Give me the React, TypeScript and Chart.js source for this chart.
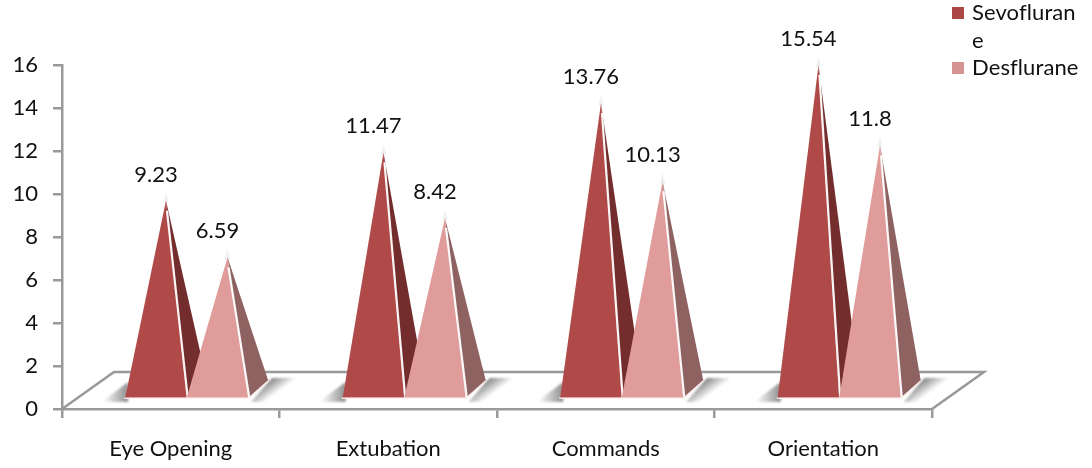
import React, { useEffect, useRef } from "react";
import { Chart, registerables, BarController, BarElement } from "chart.js";

const categories = ["Eye Opening", "Extubation", "Commands", "Orientation"];
const sevoflurane = [9.23, 11.47, 13.76, 15.54];
const desflurane = [6.59, 8.42, 10.13, 11.8];
const valueLabels = [
  ["9.23", "11.47", "13.76", "15.54"],
  ["6.59", "8.42", "10.13", "11.8"],
];
const frontColors = ["#AF4A48", "#DF9C9A"];
const sideColors = ["#742D2D", "#8F6262"];
const legendSwatches = ["#AB4745", "#D59391"];
const legendLines = [
  { text: "Sevofluran", swatch: 0 },
  { text: "e", swatch: -1 },
  { text: "Desflurane", swatch: 1 },
];
const FONT_FAMILY = "Lato, Carlito, sans-serif";
const FONT_SIZE = 22;
const FONT = `${FONT_SIZE}px ${FONT_FAMILY}`;
const AXIS_GREY = "#999999";

// Projection of the 3D floor and of each pyramid's base
const DEPTH_X = 52;
const DEPTH_Y = 37;
const BASE_SHIFT_X = 16;
const BASE_LIFT = 10;
const BACK_X = 20;
const BACK_Y = 17;

class PyramidBar extends BarElement {
  static id = "pyramid";

  draw(ctx: CanvasRenderingContext2D) {
    const { x, y, width, base } = (this as any).getProps(["x", "y", "width", "base"]);
    const opts = (this as any).options;
    const left = x - width / 2 + BASE_SHIFT_X;
    const right = x + width / 2 + BASE_SHIFT_X;
    const floorY = base - BASE_LIFT;
    const apexX = (left + right + BACK_X) / 2;
    const apexY = y - BASE_LIFT;

    ctx.save();
    ctx.lineJoin = "round";
    // faint glow around the tip
    ctx.beginPath();
    ctx.moveTo(apexX - 3, apexY + 2);
    ctx.lineTo(apexX, apexY - 8);
    ctx.lineTo(apexX + 3, apexY + 2);
    ctx.closePath();
    ctx.fillStyle = "rgba(232,232,232,0.6)";
    ctx.fill();
    // right-hand face, receding towards the back of the floor
    ctx.beginPath();
    ctx.moveTo(right, floorY);
    ctx.lineTo(right + BACK_X, floorY - BACK_Y);
    ctx.lineTo(apexX, apexY);
    ctx.closePath();
    ctx.fillStyle = opts.borderColor;
    ctx.fill();
    // front face
    ctx.beginPath();
    ctx.moveTo(left, floorY);
    ctx.lineTo(right, floorY);
    ctx.lineTo(apexX, apexY);
    ctx.closePath();
    ctx.fillStyle = opts.backgroundColor;
    ctx.fill();
    // light edges: the ridge towards the side face and the bottom of the front face
    ctx.strokeStyle = "rgba(255,255,255,0.95)";
    ctx.lineWidth = 2.2;
    ctx.beginPath();
    ctx.moveTo(right + 1, floorY);
    ctx.lineTo(apexX + 1, apexY + 10);
    ctx.stroke();
    ctx.strokeStyle = "rgba(255,236,236,0.9)";
    ctx.lineWidth = 1.5;
    ctx.beginPath();
    ctx.moveTo(left - 1, floorY + 0.5);
    ctx.lineTo(right + 1, floorY + 0.5);
    ctx.stroke();
    ctx.beginPath();
    ctx.moveTo(right + 1, floorY);
    ctx.lineTo(right + BACK_X, floorY - BACK_Y);
    ctx.stroke();
    ctx.restore();
  }
}

class PyramidController extends BarController {
  static id = "pyramid";
  static defaults = { dataElementType: "pyramid" };
  static overrides = BarController.overrides;

  // Painting happens in the plugin so that the left pyramid stays behind the right one
  draw() {}
}

Chart.register(...registerables, PyramidBar, PyramidController);

const paintFloor = (chart: any) => {
  const { ctx, chartArea: a } = chart;
  ctx.save();
  ctx.beginPath();
  ctx.moveTo(a.left, a.bottom);
  ctx.lineTo(a.left + DEPTH_X, a.bottom - DEPTH_Y);
  ctx.lineTo(a.right + DEPTH_X, a.bottom - DEPTH_Y);
  ctx.lineTo(a.right, a.bottom);
  ctx.strokeStyle = AXIS_GREY;
  ctx.lineWidth = 2.5;
  ctx.stroke();

  // Soft shadows cast on the floor on both sides of each pair
  const first = chart.getDatasetMeta(0).data;
  const second = chart.getDatasetMeta(1).data;
  ctx.filter = "blur(1.2px)";
  first.forEach((bar: any, i: number) => {
    const floorY = a.bottom - BASE_LIFT;
    const leftEdge = bar.x - bar.width / 2 + BASE_SHIFT_X;
    const l = ctx.createLinearGradient(leftEdge - 22, 0, leftEdge + 2, 0);
    l.addColorStop(0, "rgba(120,120,120,0)");
    l.addColorStop(1, "rgba(120,120,120,0.8)");
    ctx.fillStyle = l;
    ctx.beginPath();
    ctx.moveTo(leftEdge - 24, floorY + 3);
    ctx.lineTo(leftEdge + 3, floorY + 3);
    ctx.lineTo(leftEdge + 3, floorY - 17);
    ctx.closePath();
    ctx.fill();

    const rightEdge = second[i].x + second[i].width / 2 + BASE_SHIFT_X;
    const cornerX = rightEdge + BACK_X;
    const cornerY = floorY - BACK_Y;
    const r = ctx.createLinearGradient(cornerX, cornerY, cornerX + 8.3, cornerY + 11.3);
    r.addColorStop(0, "rgba(120,120,120,0.85)");
    r.addColorStop(1, "rgba(120,120,120,0)");
    ctx.fillStyle = r;
    ctx.beginPath();
    ctx.moveTo(rightEdge + 3, floorY + 3);
    ctx.lineTo(cornerX, cornerY);
    ctx.lineTo(cornerX + 4, cornerY - 4);
    ctx.lineTo(cornerX + 30, cornerY - 4);
    ctx.lineTo(rightEdge + 18, floorY + 3);
    ctx.closePath();
    ctx.fill();
  });
  ctx.filter = "none";
  ctx.restore();
};

const paintLegend = (ctx: CanvasRenderingContext2D) => {
  ctx.save();
  ctx.font = FONT;
  ctx.fillStyle = "#111111";
  ctx.textAlign = "left";
  ctx.textBaseline = "middle";
  (ctx as any).letterSpacing = "0.1px";
  legendLines.forEach((line, i) => {
    const y = 13 + i * 27.5;
    if (line.swatch >= 0) {
      ctx.fillStyle = legendSwatches[line.swatch];
      ctx.fillRect(952, y - 6, 12, 12);
      ctx.fillStyle = "#111111";
    }
    ctx.fillText(line.text, 972, y);
  });
  ctx.restore();
};

const pyramidPlugin = {
  id: "pyramidScene",
  beforeDatasetsDraw(chart: any) {
    paintFloor(chart);
  },
  afterDatasetsDraw(chart: any) {
    const { ctx } = chart;
    [0, 1].forEach((d) => chart.getDatasetMeta(d).data.forEach((bar: any) => bar.draw(ctx)));

    ctx.save();
    ctx.font = FONT;
    ctx.fillStyle = "#111111";
    ctx.textAlign = "center";
    ctx.textBaseline = "middle";
    [0, 1].forEach((d) =>
      chart.getDatasetMeta(d).data.forEach((bar: any, i: number) => {
        ctx.fillText(valueLabels[d][i], bar.x + BASE_SHIFT_X, bar.y - BASE_LIFT - 26);
      })
    );
    ctx.restore();
    paintLegend(ctx);
  },
};

export default function App() {
  const canvasRef = useRef<HTMLCanvasElement>(null);

  useEffect(() => {
    const chart = new Chart(canvasRef.current as HTMLCanvasElement, {
      type: "pyramid" as any,
      data: {
        labels: categories,
        datasets: [
          { label: "Sevoflurane", data: sevoflurane, backgroundColor: frontColors[0], borderColor: sideColors[0] },
          { label: "Desflurane", data: desflurane, backgroundColor: frontColors[1], borderColor: sideColors[1] },
        ],
      },
      options: {
        responsive: false,
        animation: false,
        layout: { padding: { top: 65, right: 160, bottom: 0, left: 0 } },
        plugins: { legend: { display: false }, tooltip: { enabled: false } },
        datasets: { pyramid: { categoryPercentage: 0.566, barPercentage: 1 } },
        scales: {
          x: {
            type: "category",
            offset: true,
            afterFit: (s: any) => {
              s.height = 59;
            },
            border: { color: AXIS_GREY, width: 2.5 },
            grid: { offset: true, drawOnChartArea: false, color: AXIS_GREY, lineWidth: 2.5, tickLength: 9 },
            ticks: { color: "#111111", font: { family: FONT_FAMILY, size: FONT_SIZE }, padding: 18, maxRotation: 0, autoSkip: false },
          },
          y: {
            min: 0,
            max: 16,
            afterFit: (s: any) => {
              s.width = 62;
            },
            border: { color: AXIS_GREY, width: 2.5 },
            grid: { drawOnChartArea: false, color: AXIS_GREY, lineWidth: 2.5, tickLength: 9 },
            ticks: { stepSize: 2, color: "#111111", font: { family: FONT_FAMILY, size: FONT_SIZE }, padding: 15 },
          },
        },
      } as any,
      plugins: [pyramidPlugin],
    });
    return () => chart.destroy();
  }, []);

  return (
    <div style={{ position: "fixed", left: 0, top: 0, width: 1092, height: 468, background: "#ffffff" }}>
      <canvas ref={canvasRef} width={1092} height={468} style={{ display: "block" }} />
    </div>
  );
}
